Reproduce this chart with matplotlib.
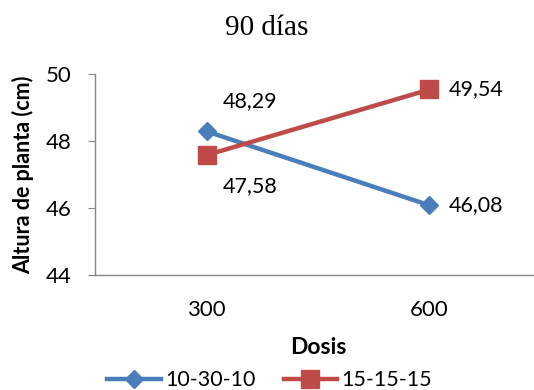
import matplotlib
matplotlib.use("Agg")
import matplotlib.pyplot as plt

categories = ["300", "600"]
series_names = ["10-30-10", "15-15-15"]
s1 = [48.29, 46.08]
s2 = [47.58, 49.54]
yticks = [44, 46, 48, 50]

fig = plt.figure(figsize=(5.34, 3.9), dpi=100)
ax = fig.add_axes([0.178, 0.295, 0.835, 0.515])
sans = ["Lato", "DejaVu Sans"]
x = list(range(len(categories)))
blue = "#4A7EBB"
red = "#BE4B48"
ax.plot(x, s1, color=blue, lw=3.2, marker="D", ms=9.5, label=series_names[0], zorder=3)
ax.plot(x, s2, color=red, lw=3.2, marker="s", ms=13.5, label=series_names[1], zorder=3)

fmt = lambda v: f"{v:.2f}".replace(".", ",")
lab = 15.5
ax.annotate(fmt(s1[0]), (x[0], s1[0]), xytext=(12, 22), textcoords="offset points",
            ha="left", va="center", fontsize=lab, family=sans)
ax.annotate(fmt(s2[0]), (x[0], s2[0]), xytext=(12, -22), textcoords="offset points",
            ha="left", va="center", fontsize=lab, family=sans)
ax.annotate(fmt(s1[1]), (x[1], s1[1]), xytext=(14, 0), textcoords="offset points",
            ha="left", va="center", fontsize=lab, family=sans)
ax.annotate(fmt(s2[1]), (x[1], s2[1]), xytext=(14, 0), textcoords="offset points",
            ha="left", va="center", fontsize=lab, family=sans)

ax.set_xlim(-0.5, 1.5)
ax.set_ylim(44, 50)
ax.set_yticks(yticks)
ax.set_yticklabels([str(t) for t in yticks], fontsize=16, family=sans)
ax.set_xticks(x)
ax.set_xticklabels(categories, fontsize=16, family=sans)
ax.tick_params(axis="x", length=0, pad=18)
ax.tick_params(axis="y", length=5, color="#868686", pad=12)
for s in ["top", "right"]:
    ax.spines[s].set_visible(False)
for s in ["left", "bottom"]:
    ax.spines[s].set_color("#868686")
    ax.spines[s].set_linewidth(1)

ax.set_xlabel("Dosis", fontsize=16.5, fontweight="bold", family=sans, labelpad=12)
ax.set_ylabel("Altura de planta (cm)", fontsize=15.5, fontweight="bold", family=sans, labelpad=8)
fig.text(0.5, 0.928, "90 días", ha="center", va="center", fontsize=21,
         family=["Liberation Serif", "DejaVu Serif"])

leg = fig.legend(loc="center", bbox_to_anchor=(0.505, 0.025), ncol=2, frameon=False,
                 prop={"family": sans, "size": 15.5}, handlelength=2.5, columnspacing=1.3,
                 handletextpad=0.2, borderpad=0)
fig.savefig("out.png", dpi=100)
